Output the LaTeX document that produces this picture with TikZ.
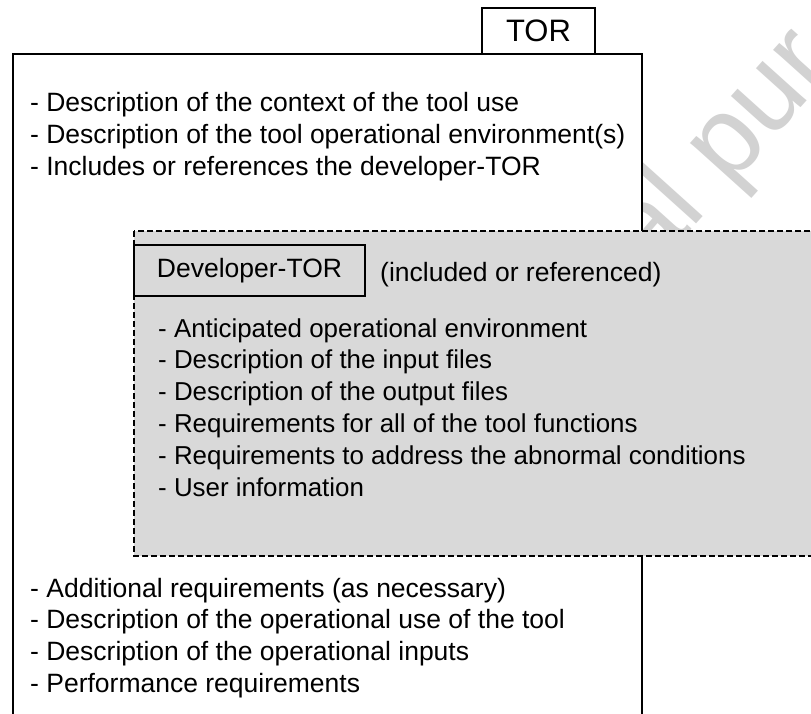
\documentclass[tikz,border=0pt]{standalone}
\usepackage{fontspec}
\setmainfont{Liberation Sans}
\definecolor{boxgrey}{RGB}{217,217,217}
\definecolor{wmgrey}{RGB}{210,210,210}
\begin{document}
\begin{tikzpicture}[x=1pt,y=-1pt,
  frame/.style={draw=black,line width=2pt},
  dashframe/.style={draw=black,line width=1.6pt,dash pattern=on 6pt off 3pt,fill=boxgrey},
  txt/.style={anchor=base west,inner sep=0pt,font=\fontsize{26.5}{31.8}\selectfont},
  devtxt/.style={txt,font=\fontsize{25.9}{31.8}\selectfont},
  labelbox/.style={draw=black,line width=2pt,inner sep=0pt,font=\fontsize{26.5}{31.8}\selectfont},
  wm/.style={text=wmgrey,inner sep=0pt,font=\fontsize{112}{120}\selectfont}]
\useasboundingbox (0,0) rectangle (811,713);
\clip (0,0) rectangle (811,713);
\fill[white] (0,0) rectangle (811,713);
% watermark (behind the boxes)
\node[wm,rotate=48,anchor=base west] (wm) at (650,276) {al pur};
% main TOR box, open at the bottom
\draw[frame,fill=white] (13,54) rectangle (641.5,740);
\node[labelbox,fill=white,minimum width=113pt,minimum height=46pt,font=\fontsize{31}{36}\selectfont] (tor) at (538.5,31) {TOR};
% top list
\foreach \t [count=\i] in {{- Description of the context of the tool use},
  {- Description of the tool operational environment(s)},
  {- Includes or references the developer-TOR}}
  \node[txt] (top\i) at (30,{111.7+31.8*(\i-1)}) {\t};
% grey dashed developer box
\draw[dashframe] (134,231) rectangle (840,556);
\node[labelbox,fill=boxgrey,minimum width=231pt,minimum height=51pt] (dev) at (249.5,270.5) {Developer-TOR};
\node[txt] (incl) at (380,281.7) {(included or referenced)};
\foreach \t [count=\i] in {{- Anticipated operational environment},
  {- Description of the input files},
  {- Description of the output files},
  {- Requirements for all of the tool functions},
  {- Requirements to address the abnormal conditions},
  {- User information}}
  \node[devtxt] (dv\i) at (158,{337+31.8*(\i-1)}) {\t};
% bottom list
\foreach \t [count=\i] in {{- Additional requirements (as necessary)},
  {- Description of the operational use of the tool},
  {- Description of the operational inputs},
  {- Performance requirements}}
  \node[txt] (bot\i) at (30,{597+31.8*(\i-1)}) {\t};
\end{tikzpicture}
\end{document}
